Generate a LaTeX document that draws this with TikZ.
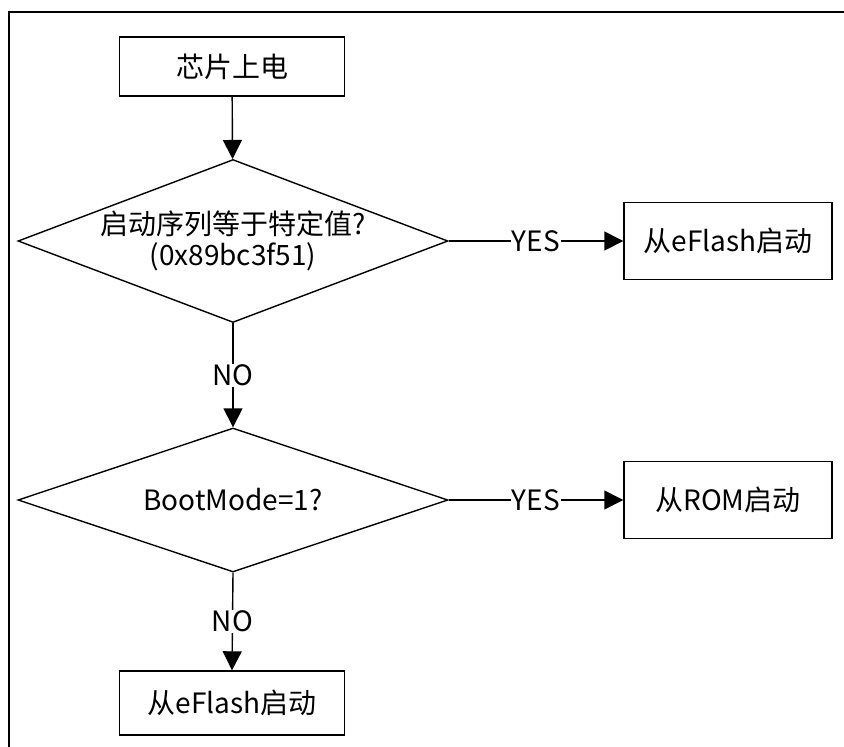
\documentclass[tikz,border=0pt]{standalone}
\usepackage{fontspec}
\setmainfont{Noto Sans CJK SC}
\usetikzlibrary{arrows.meta, positioning, shapes.geometric}

\begin{document}
\begin{tikzpicture}[x=1pt, y=-1pt,
    every node/.style={font=\fontsize{28}{31}\selectfont},
    procbox/.style={draw, line width=1.4pt, minimum width=225pt, minimum height=59pt, inner sep=0pt},
    sidebox/.style={procbox, minimum width=208pt, minimum height=77pt},
    decision/.style={draw, diamond, aspect=2.8, line width=1.4pt, minimum width=430pt, inner sep=-20pt, align=center},
    flow/.style={line width=1.4pt, -{Triangle[length=19pt, width=19pt]}},
    tag/.style={fill=white, inner sep=1pt}]
    \useasboundingbox (0,0) rectangle (844,747);
    % frame
    \draw[line width=2.5pt] (9,747) -- (9,12) -- (844,12);
    % nodes
    \node[procbox] (power) at (232,66.5) {芯片上电};
    \node[decision, minimum height=163pt] (seq) at (233,241) {启动序列等于特定值?\\(0x89bc3f51)};
    \node[sidebox] (flashA) at (728,241) {从eFlash启动};
    \node[decision, minimum height=144pt] (mode) at (233,500) {BootMode=1?};
    \node[sidebox] (rom) at (728,500) {从ROM启动};
    \node[procbox, minimum height=64pt] (flashB) at (232,703) {从eFlash启动};
    % connectors
    \draw[flow] (power) -- (seq);
    \draw[flow] (seq.east) -- node[tag] {YES} (flashA.west);
    \draw[flow] (seq.south) -- node[tag] {NO} (mode.north);
    \draw[flow] (mode.east) -- node[tag] {YES} (rom.west);
    \draw[flow] (mode.south) -- node[tag] {NO} (flashB.north);
\end{tikzpicture}
\end{document}
